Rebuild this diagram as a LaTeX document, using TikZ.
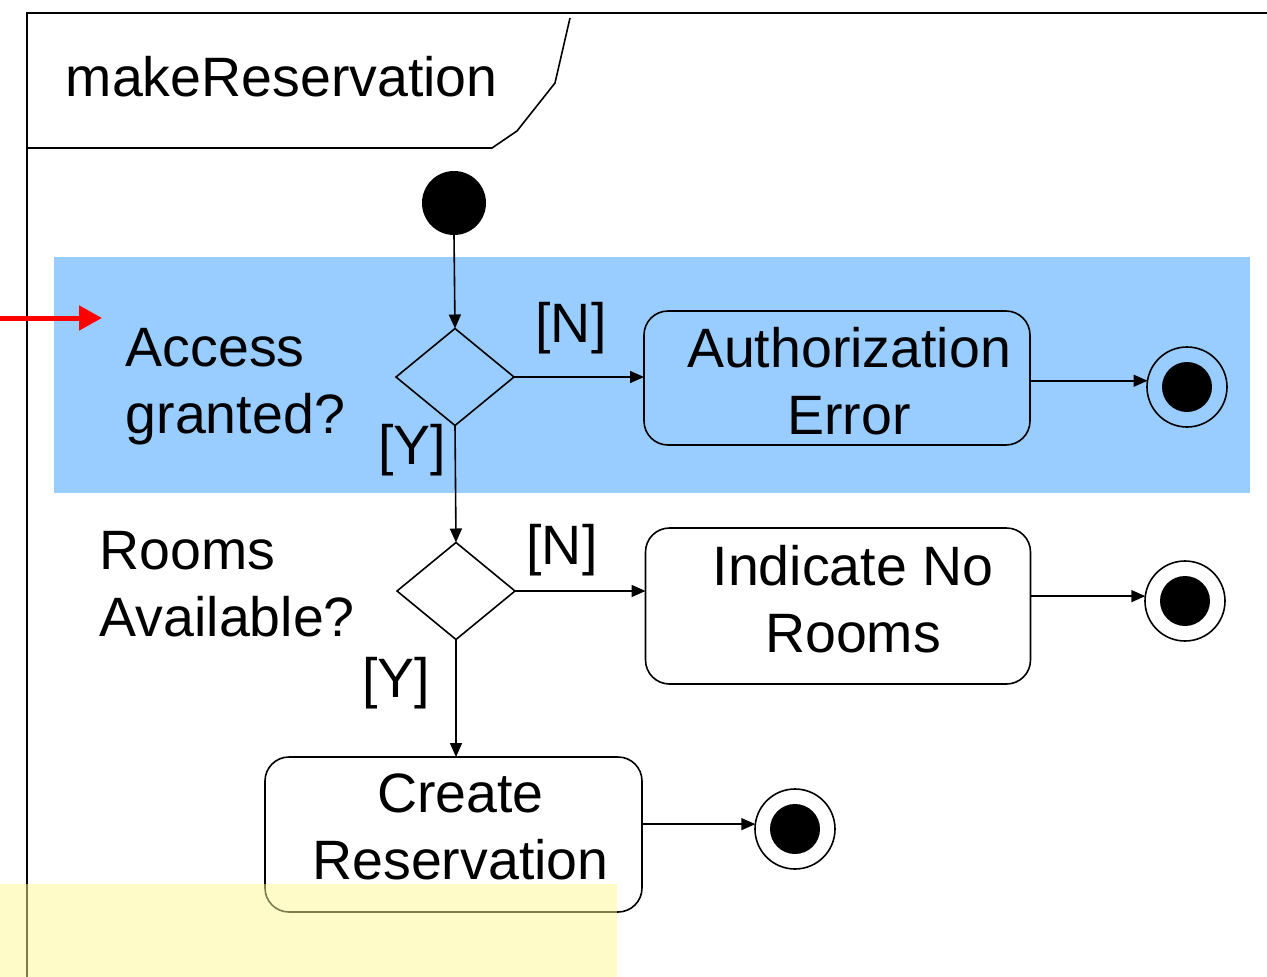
\documentclass[tikz,border=0pt]{standalone}
\usepackage{fontspec}
\setmainfont{Liberation Sans}
\usetikzlibrary{arrows.meta,shapes.geometric}
\definecolor{bandblue}{RGB}{153,204,255}
\definecolor{noteyellow}{RGB}{255,248,145}
\definecolor{markred}{RGB}{255,0,0}
\begin{document}
\begin{tikzpicture}[x=1pt,y=-1pt,
  font=\fontsize{55.5}{67}\selectfont,
  line width=1.6pt,
  action/.style={draw, rounded corners=24pt, inner sep=0pt, outer sep=0pt},
  actiontext/.style={align=center, inner sep=0pt},
  decision/.style={draw, diamond, minimum width=118pt, minimum height=97pt, inner sep=0pt, outer sep=0pt},
  initial/.style={circle, fill=black, minimum size=64pt, inner sep=0pt, outer sep=0pt},
  final/.style={circle, draw, minimum size=80pt, inner sep=0pt, outer sep=0pt,
    path picture={\fill[black] (path picture bounding box.center) circle (25pt);}},
  flow/.style={-{Triangle[length=14pt,width=12pt]}, line width=1.6pt},
  guard/.style={inner sep=0pt},
  question/.style={align=left, anchor=west, inner sep=0pt}]
\useasboundingbox (0,0) rectangle (1267,977);
% frame
\draw (1267,13) -- (27,13) -- (27,977);
\draw (27,148) -- (492,148) -- (517,131) -- (555,83) -- (570,18);
\node[anchor=west, inner sep=0pt] (title) at (65,77) {makeReservation};
% highlight band
\fill[bandblue] (54,257) rectangle (1250,493);
% nodes
\node[initial] (init) at (454,203) {};
\node[decision] (d1) at (455,377) {};
\node[action, minimum width=386pt, minimum height=134pt] (auth) at (837,378) {};
\node[actiontext] (authtext) at (849,381.5) {Authorization\\Error};
\node[final] (f1) at (1187,387) {};
\node[decision] (d2) at (456,591) {};
\node[action, minimum width=385pt, minimum height=156pt] (nor) at (838,606) {};
\node[actiontext] (nortext) at (853,599) {Indicate No\\Rooms};
\node[final] (f2) at (1185,601) {};
\node[action, minimum width=377pt, minimum height=155pt] (create) at (453.5,834.5) {};
\node[actiontext] (createtext) at (460.5,826.5) {Create\\Reservation};
\node[final] (f3) at (795,829) {};
% texts
\node[question] (q1) at (125,387) {Access\\granted?};
\node[question] (q2) at (99,584) {Rooms\\Available?};
\node[guard] (n1) at (571,328) {[N]};
\node[guard] (y1) at (412,450) {[Y]};
\node[guard] (n2) at (562,550) {[N]};
\node[guard] (y2) at (396,683) {[Y]};
% connectors
\draw[flow] (init.south) -- (d1.north);
\draw[flow] (d1.east) -- (d1.east -| auth.west);
\draw[flow] (auth.east |- f1.171) -- (f1.171);
\draw[flow] (d1.south) -- (d2.north);
\draw[flow] (d2.east) -- (d2.east -| nor.west);
\draw[flow] (nor.east |- f2.173) -- (f2.173);
\draw[flow] (d2.south) -- (d2.south |- create.north);
\draw[flow] (create.east |- f3.173) -- (f3.173);
% red marker arrow
\coordinate (rs) at (0,318);
\coordinate (re) at (102,318);
\draw[markred, line width=5pt, -{Triangle[length=23pt,width=24pt]}] (rs) -- (re);
% yellow note overlay
\fill[noteyellow, opacity=0.5] (0,884) rectangle (617,977);
\end{tikzpicture}
\end{document}
